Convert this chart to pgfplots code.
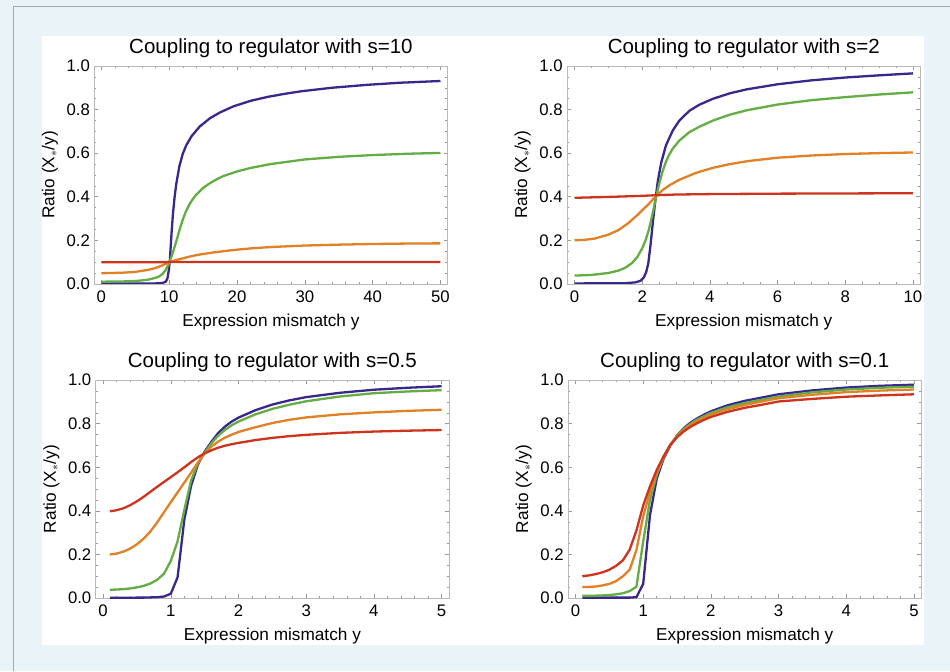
\documentclass[border=0pt]{standalone}
\usepackage{pgfplots}
\pgfplotsset{compat=1.18}
\usepackage{fontspec}
\setmainfont{Liberation Sans}

\definecolor{bgblue}{RGB}{234,243,247}
\definecolor{rimgray}{RGB}{165,170,173}
\definecolor{cBlue}{RGB}{57,40,140}
\definecolor{cGreen}{RGB}{100,172,68}
\definecolor{cOrange}{RGB}{226,128,38}
\definecolor{cRed}{RGB}{205,52,30}

\pgfplotsset{
  panel/.style={
    scale only axis, width=353.5bp, height=218bp,
    ymin=0, ymax=1,
    ytick={0,0.2,0.4,0.6,0.8,1},
    minor y tick num=3,
    axis line style={draw=black!28, line width=0.6bp},
    every tick/.style={draw=black!40, line width=0.5bp},
    major tick length=4bp, minor tick length=2.2bp,
    tick align=inside,
    /pgf/number format/assume math mode=true,
    tick label style={font=\fontsize{16.8}{18}\selectfont, inner sep=0pt},
    yticklabel style={/pgf/number format/fixed, /pgf/number format/fixed zerofill,
      /pgf/number format/precision=1, xshift=-4.2bp},
    xticklabel style={yshift=-6.5bp},
    every axis x label/.style={at={(axis description cs:0.5,0)}, anchor=north,
      yshift=-30bp, inner sep=0pt, font=\fontsize{17.3}{20}\selectfont},
    every axis y label/.style={at={(axis description cs:-0.1253,0.5)}, rotate=90,
      anchor=center, inner sep=0pt, font=\fontsize{17.3}{20}\selectfont},
    every axis title/.style={at={(axis description cs:0.5,1)}, anchor=base,
      yshift=12.7bp, inner sep=0pt, font=\fontsize{20.6}{24}\selectfont},
    xlabel={Expression mismatch y},
    ylabel={Ratio (X$_{\ast}$/y)},
    every axis plot/.append style={line width=2.3bp, line join=round, mark=none},
  },
}

\begin{document}
\begin{tikzpicture}
% page background, white card and rim
\fill[bgblue] (0,0) rectangle (950bp,671bp);
\fill[white] (42bp,26bp) rectangle (924bp,635bp);
\draw[rimgray, line width=0.8bp] (13bp,0) -- (13bp,665bp) -- (950bp,665bp);

% s = 10
\begin{axis}[panel, at={(94.3bp,387bp)}, anchor=south west,
  xmin=-1.05, xmax=51.05, xtick={0,10,20,30,40,50}, minor x tick num=4,
  title={Coupling to regulator with s=10}]
\addplot[cBlue] coordinates {(0,0.002) (8,0.002) (9,0.004) (9.5,0.010) (9.75,0.026)
  (9.95,0.064) (10.1,0.110) (10.2,0.160) (10.35,0.235) (10.55,0.320) (10.8,0.400)
  (11.05,0.460) (11.5,0.540) (12,0.597) (12.5,0.635) (13.3,0.678) (14.5,0.722)
  (16,0.760) (17.5,0.787) (19.5,0.815) (22,0.840) (24.5,0.858) (27,0.872)
  (29.5,0.884) (34,0.900) (39,0.913) (44,0.923) (50,0.931)};
\addplot[cGreen] coordinates {(0,0.010) (3,0.011) (5,0.013) (6,0.016) (7,0.020)
  (8,0.028) (8.5,0.034) (9,0.045) (9.5,0.064) (10,0.095) (10.5,0.140) (11,0.190)
  (11.5,0.245) (12,0.295) (12.5,0.335) (13,0.366) (13.5,0.390) (14,0.410)
  (15,0.440) (16,0.462) (17,0.480) (18,0.495) (20,0.516) (22,0.532) (25,0.550)
  (30,0.571) (35,0.583) (40,0.591) (45,0.597) (50,0.601)};
\addplot[cOrange] coordinates {(0,0.049) (3,0.051) (5,0.055) (7,0.065) (8,0.073)
  (9,0.085) (10,0.099) (11,0.109) (12,0.117) (13,0.125) (14,0.132) (15,0.137)
  (16.5,0.144) (18,0.150) (20,0.157) (22.5,0.164) (25,0.169) (30,0.176)
  (35,0.180) (40,0.183) (45,0.185) (50,0.186)};
\addplot[cRed] coordinates {(0,0.099) (5,0.099) (10,0.100) (20,0.100) (50,0.100)};
\end{axis}

% s = 2
\begin{axis}[panel, at={(567.3bp,387bp)}, anchor=south west,
  xmin=-0.22, xmax=10.22, xtick={0,2,4,6,8,10}, minor x tick num=3,
  title={Coupling to regulator with s=2}]
\addplot[cBlue] coordinates {(0,0.002) (1.5,0.003) (1.8,0.007) (1.95,0.014)
  (2.05,0.030) (2.12,0.055) (2.18,0.095) (2.24,0.170) (2.32,0.290) (2.39,0.385)
  (2.46,0.470) (2.56,0.555) (2.7,0.635) (2.9,0.703) (3.1,0.750) (3.4,0.795)
  (3.7,0.823) (4.1,0.850) (4.6,0.875) (5.1,0.893) (6,0.916) (7,0.934)
  (8,0.947) (9,0.957) (10,0.966)};
\addplot[cGreen] coordinates {(0,0.038) (0.5,0.041) (1.0,0.050) (1.3,0.061)
  (1.5,0.074) (1.7,0.096) (1.85,0.122) (2.0,0.163) (2.1,0.200) (2.2,0.250)
  (2.3,0.318) (2.42,0.405) (2.5,0.458) (2.6,0.515) (2.7,0.560) (2.8,0.594)
  (2.9,0.620) (3.1,0.658) (3.4,0.697) (3.7,0.722) (4.1,0.750) (4.6,0.777)
  (5.1,0.797) (6,0.823) (7,0.843) (8,0.857) (9,0.869) (10,0.879)};
\addplot[cOrange] coordinates {(0,0.200) (0.3,0.202) (0.6,0.208) (1.0,0.226)
  (1.3,0.247) (1.6,0.280) (1.9,0.322) (2.2,0.368) (2.42,0.405) (2.6,0.430)
  (2.8,0.452) (3.1,0.478) (3.6,0.510) (4.1,0.533) (4.6,0.550) (5.1,0.563)
  (6,0.579) (7,0.589) (8,0.596) (9,0.600) (10,0.603)};
\addplot[cRed] coordinates {(0,0.395) (1,0.399) (2,0.404) (2.42,0.407) (3,0.410)
  (4,0.412) (6,0.414) (8,0.415) (10,0.416)};
\end{axis}

% s = 0.5
\begin{axis}[panel, at={(95.7bp,72.7bp)}, anchor=south west,
  xmin=-0.11, xmax=5.11, xtick={0,1,2,3,4,5}, minor x tick num=4,
  title={Coupling to regulator with s=0.5}]
\addplot[cBlue] coordinates {(0.1,0.001) (0.2,0.001) (0.3,0.001) (0.4,0.001)
  (0.5,0.002) (0.6,0.002) (0.7,0.003) (0.8,0.004) (0.9,0.007) (1.0,0.020)
  (1.1,0.095) (1.2,0.360) (1.3,0.515) (1.4,0.612) (1.5,0.672) (1.6,0.717)
  (1.7,0.757) (1.8,0.787) (1.9,0.810) (2.0,0.828) (2.25,0.862) (2.5,0.888)
  (2.75,0.907) (3,0.922) (3.5,0.942) (4,0.956) (4.5,0.965) (5,0.972)};
\addplot[cGreen] coordinates {(0.1,0.038) (0.2,0.039) (0.3,0.041) (0.4,0.044)
  (0.5,0.049) (0.6,0.056) (0.7,0.067) (0.8,0.084) (0.9,0.112) (1.0,0.170)
  (1.1,0.260) (1.2,0.405) (1.3,0.540) (1.4,0.617) (1.5,0.667) (1.6,0.710)
  (1.7,0.745) (1.8,0.772) (1.9,0.793) (2.0,0.810) (2.25,0.843) (2.5,0.868)
  (2.75,0.887) (3,0.903) (3.5,0.925) (4,0.940) (4.5,0.948) (5,0.954)};
\addplot[cOrange] coordinates {(0.1,0.200) (0.2,0.204) (0.3,0.213) (0.4,0.227)
  (0.5,0.247) (0.6,0.273) (0.7,0.306) (0.8,0.348) (0.9,0.394) (1.0,0.440)
  (1.1,0.485) (1.2,0.530) (1.3,0.575) (1.4,0.622) (1.5,0.664) (1.6,0.695)
  (1.7,0.718) (1.8,0.736) (1.9,0.750) (2.0,0.762) (2.25,0.784) (2.5,0.803)
  (2.75,0.818) (3,0.829) (3.5,0.843) (4,0.852) (4.5,0.859) (5,0.864)};
\addplot[cRed] coordinates {(0.1,0.398) (0.2,0.403) (0.3,0.412) (0.4,0.426)
  (0.5,0.444) (0.6,0.465) (0.7,0.488) (0.8,0.511) (0.9,0.533) (1.0,0.555)
  (1.1,0.577) (1.2,0.600) (1.3,0.624) (1.4,0.646) (1.5,0.664) (1.6,0.678)
  (1.7,0.690) (1.8,0.699) (1.9,0.706) (2.0,0.712) (2.25,0.725) (2.5,0.735)
  (2.75,0.743) (3,0.749) (3.5,0.758) (4,0.764) (4.5,0.768) (5,0.771)};
\end{axis}

% s = 0.1
\begin{axis}[panel, at={(568.3bp,72.7bp)}, anchor=south west,
  xmin=-0.11, xmax=5.11, xtick={0,1,2,3,4,5}, minor x tick num=4,
  title={Coupling to regulator with s=0.1}]
\addplot[cBlue] coordinates {(0.1,0.002) (0.2,0.002) (0.3,0.002) (0.4,0.002)
  (0.5,0.002) (0.6,0.002) (0.7,0.002) (0.8,0.002) (0.9,0.004) (1.0,0.065)
  (1.1,0.380) (1.2,0.548) (1.3,0.638) (1.4,0.700) (1.5,0.746) (1.6,0.780)
  (1.7,0.805) (1.8,0.825) (1.9,0.842) (2.0,0.857) (2.25,0.885) (2.5,0.905)
  (2.75,0.920) (3,0.935) (3.5,0.953) (4,0.966) (4.5,0.974) (5,0.979)};
\addplot[cGreen] coordinates {(0.1,0.010) (0.2,0.010) (0.3,0.011) (0.4,0.012)
  (0.5,0.014) (0.6,0.017) (0.7,0.022) (0.8,0.032) (0.9,0.052) (1.0,0.260)
  (1.1,0.450) (1.2,0.565) (1.3,0.645) (1.4,0.703) (1.5,0.745) (1.6,0.776)
  (1.7,0.800) (1.8,0.820) (1.9,0.835) (2.0,0.850) (2.25,0.876) (2.5,0.895)
  (2.75,0.910) (3,0.925) (3.5,0.944) (4,0.957) (4.5,0.965) (5,0.970)};
\addplot[cOrange] coordinates {(0.1,0.050) (0.2,0.051) (0.3,0.053) (0.4,0.058)
  (0.5,0.065) (0.6,0.078) (0.7,0.100) (0.8,0.130) (0.9,0.220) (1.0,0.375)
  (1.1,0.485) (1.2,0.575) (1.3,0.645) (1.4,0.703) (1.5,0.742) (1.6,0.772)
  (1.7,0.795) (1.8,0.812) (1.9,0.828) (2.0,0.842) (2.25,0.867) (2.5,0.886)
  (2.75,0.902) (3,0.917) (3.5,0.933) (4,0.945) (4.5,0.952) (5,0.957)};
\addplot[cRed] coordinates {(0.1,0.100) (0.2,0.104) (0.3,0.110) (0.4,0.118)
  (0.5,0.130) (0.6,0.148) (0.7,0.173) (0.8,0.222) (0.9,0.310) (1.0,0.425)
  (1.1,0.512) (1.2,0.588) (1.3,0.650) (1.4,0.702) (1.5,0.738) (1.6,0.765)
  (1.7,0.786) (1.8,0.803) (1.9,0.818) (2.0,0.831) (2.25,0.855) (2.5,0.873)
  (2.75,0.887) (3,0.902) (3.5,0.914) (4,0.924) (4.5,0.930) (5,0.935)};
\end{axis}
\end{tikzpicture}
\end{document}
